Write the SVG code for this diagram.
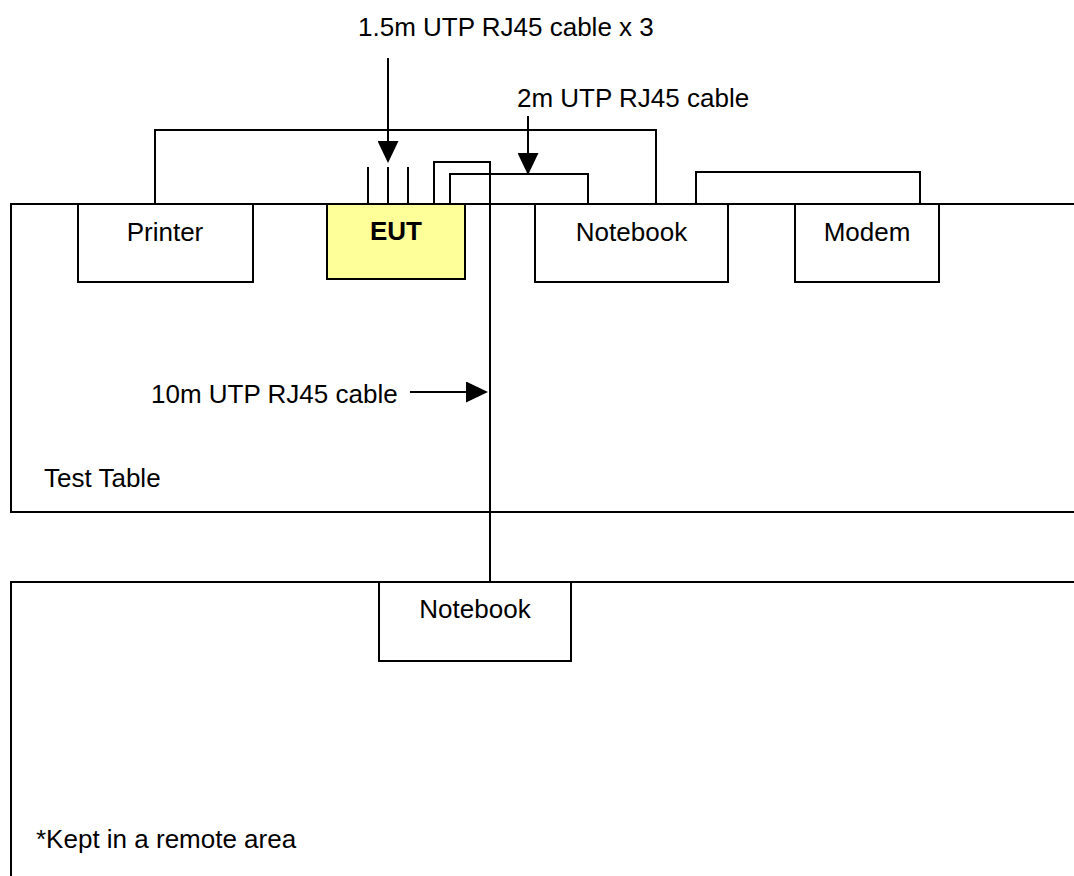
<svg xmlns="http://www.w3.org/2000/svg" width="1074" height="876" viewBox="0 0 1074 876">
<style>
.ln{fill:none;stroke:#000;stroke-width:2}
.bx{fill:#fff;stroke:#000;stroke-width:2}
.t{font-family:"Liberation Sans",Arial,sans-serif;font-size:26px;fill:#000}
.c{text-anchor:middle}
</style>
<defs>
<marker id="ah" markerUnits="userSpaceOnUse" markerWidth="22" markerHeight="21" refX="20" refY="10.5" orient="auto">
<path d="M0,0 L22,10.5 L0,21 Z" fill="#000"/>
</marker>
</defs>
<rect width="1074" height="876" fill="#fff"/>
<g id="test-table">
<path class="ln" d="M1080,204 H11 V512 H1080"/>
<text class="t" x="44" y="487">Test Table</text>
</g>
<g id="remote-area">
<path class="ln" d="M1080,582 H11 V880"/>
<text class="t" x="36" y="848">*Kept in a remote area</text>
</g>
<g id="connectors">
<path class="ln" d="M155,204 V130 H656 V204"/>
<path class="ln" d="M696,204 V172 H920 V204"/>
<path class="ln" d="M368,204 V167 M388,204 V167 M408,204 V167"/>
<path class="ln" d="M434,204 V162 H490 V582"/>
<path class="ln" d="M450,204 V174 H588 V204"/>
<path class="ln" d="M388,58 V161" marker-end="url(#ah)"/>
<path class="ln" d="M528,116 V173" marker-end="url(#ah)"/>
<path class="ln" d="M410,392 H486" marker-end="url(#ah)"/>
</g>
<g id="printer">
<rect class="bx" x="78" y="204" width="175" height="78"/>
<text class="t c" x="165" y="241">Printer</text>
</g>
<g id="eut">
<rect x="327" y="204" width="138" height="75" fill="#ffff99" stroke="#000" stroke-width="2"/>
<text class="t c" x="396" y="240" font-weight="bold">EUT</text>
</g>
<g id="notebook">
<rect class="bx" x="535" y="204" width="193" height="78"/>
<text class="t c" x="631.5" y="241">Notebook</text>
</g>
<g id="modem">
<rect class="bx" x="795" y="204" width="144" height="78"/>
<text class="t c" x="867" y="241">Modem</text>
</g>
<g id="remote-notebook">
<rect class="bx" x="379" y="582" width="192" height="79"/>
<text class="t c" x="475" y="618">Notebook</text>
</g>
<g id="labels">
<text class="t" x="358" y="36">1.5m UTP RJ45 cable x 3</text>
<text class="t" x="517" y="107">2m UTP RJ45 cable</text>
<text class="t" x="151" y="403">10m UTP RJ45 cable</text>
</g>
</svg>
